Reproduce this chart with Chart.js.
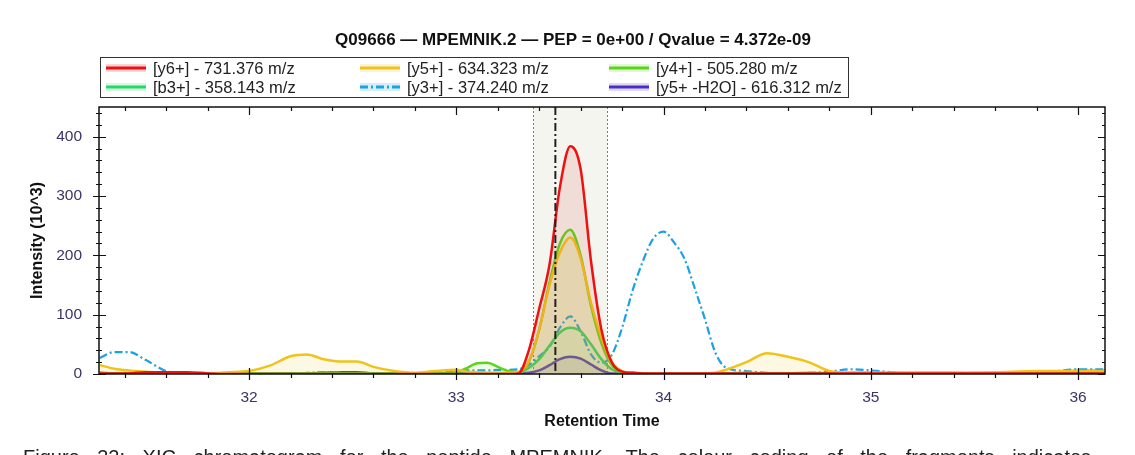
<!DOCTYPE html>
<html>
<head>
<meta charset="utf-8">
<script src="https://cdn.jsdelivr.net/npm/chart.js@4.4.0/dist/chart.umd.min.js"></script>
<style>
  html, body { margin: 0; padding: 0; width: 1135px; height: 455px; overflow: hidden; background: #fff; }
  #wrap { position: relative; width: 1135px; height: 455px; }
  #caption {
    position: absolute; left: 23px; top: 446px;
    font-family: "Liberation Sans", Arial, sans-serif; font-size: 20px; color: #222;
    white-space: nowrap; word-spacing: 12px;
  }
</style>
</head>
<body>
<div id="wrap">
  <canvas id="xic" width="1135" height="455"></canvas>
  <div id="caption">Figure 32: XIC chromatogram for the peptide MPEMNIK. The colour coding of the fragments indicates</div>
</div>
<script>
// retention time grid (min) shared by all fragment traces
const rt = [31.28, 31.35, 31.42, 31.5, 31.6, 31.7, 31.8, 31.9, 32.0, 32.1,
            32.2, 32.28, 32.36, 32.45, 32.52, 32.6, 32.7, 32.8, 32.9, 33.0,
            33.05, 33.1, 33.15, 33.2, 33.25, 33.3, 33.35, 33.4, 33.45, 33.5,
            33.55, 33.6, 33.65, 33.7, 33.75, 33.8, 33.85, 33.9, 33.95, 34.0,
            34.05, 34.1, 34.15, 34.2, 34.25, 34.3, 34.4, 34.5, 34.6, 34.7,
            34.8, 34.9, 35.0, 35.2, 35.4, 35.6, 35.8, 36.0, 36.13];

// intensities (10^3)
const y6 = [1, 1, 1, 3, 3, 3, 1, 0, 0, 0,
            0, 0, 0, 0, 0, 0, 0, 0, 0, 0,
            0, 0, 0, 0, 0, 1, 40, 110, 185, 315,
            384, 345, 190, 75, 20, 4, 2, 1, 1, 1,
            1, 1, 1, 1, 1, 1, 1, 1, 1, 1,
            1, 1, 1, 1, 1, 1, 1, 1, 1];
const y5 = [15, 9, 6, 4, 2, 1, 1, 3, 5, 14,
            30, 33, 25, 21, 21, 12, 5, 2, 5, 7,
            4, 3, 2, 2, 2, 4, 22, 75, 150, 205,
            230, 195, 120, 62, 20, 5, 2, 1, 1, 1,
            1, 1, 1, 1, 2, 7, 20, 35, 29, 20,
            5, 2, 2, 2, 2, 3, 5, 5, 5];
const y4 = [1, 1, 1, 1, 1, 1, 1, 1, 1, 1,
            1, 1, 1, 1, 1, 1, 1, 1, 1, 3,
            10, 18, 19, 12, 5, 3, 20, 75, 155, 220,
            243, 200, 115, 52, 15, 4, 2, 1, 1, 1,
            1, 1, 1, 1, 1, 1, 2, 1, 1, 2,
            1, 2, 2, 2, 2, 1, 1, 1, 1];
const b3 = [1, 1, 1, 1, 1, 1, 1, 1, 1, 1,
            1, 1, 1, 1, 1, 1, 1, 1, 1, 1,
            1, 1, 1, 1, 1, 2, 10, 25, 48, 70,
            78, 72, 50, 25, 8, 2, 1, 1, 1, 1,
            1, 1, 1, 1, 1, 1, 1, 1, 1, 1,
            1, 1, 1, 1, 1, 2, 1, 1, 1];
const y3 = [27, 37, 37, 24, 5, 1, 0, 0, 0, 0,
            0, 2, 3, 2, 1, 1, 1, 1, 2, 5,
            6, 6, 6, 7, 7, 8, 15, 30, 46, 78,
            97, 72, 33, 19, 32, 78, 140, 190, 228, 240,
            222, 195, 145, 92, 36, 11, 5, 2, 1, 2,
            4, 8, 6, 1, 1, 1, 1, 8, 8];
const y5h2o = [2, 1, 1, 1, 1, 1, 1, 1, 1, 1,
               1, 1, 2, 3, 3, 1, 1, 1, 1, 1,
               1, 1, 1, 1, 1, 1, 2, 6, 15, 25,
               29, 26, 16, 6, 1, 1, 1, 1, 1, 1,
               1, 1, 1, 1, 1, 1, 1, 1, 1, 1,
               1, 1, 1, 1, 1, 1, 2, 5, 5];

const labels = ['[y6+] - 731.376 m/z', '[y5+] - 634.323 m/z', '[y4+] - 505.280 m/z',
                '[b3+] - 358.143 m/z', '[y3+] - 374.240 m/z', '[y5+ -H2O] - 616.312 m/z'];

// integration window and apex
const peakStart = 33.371;
const peakEnd = 33.728;
const apexRT = 33.478;

const titleText = 'Q09666 \u2014 MPEMNIK.2 \u2014 PEP = 0e+00 / Qvalue = 4.372e-09';

function pts(arr) {
  return arr.map((v, i) => ({x: rt[i], y: v}));
}

function trace(label, values, color, fillColor, dash) {
  return {
    label: label,
    data: pts(values),
    borderColor: color,
    backgroundColor: fillColor || 'transparent',
    borderWidth: dash ? 2.2 : 2.5,
    borderDash: dash || [],
    fill: fillColor ? 'origin' : false,
    pointRadius: 0,
    cubicInterpolationMode: 'monotone'
  };
}

const xicDecor = {
  id: 'xicDecor',
  beforeDatasetsDraw(chart) {
    const {ctx, chartArea: a, scales: {x}} = chart;
    const x0 = Math.round(x.getPixelForValue(peakStart)) + 0.5;
    const x1 = Math.round(x.getPixelForValue(peakEnd)) + 0.5;
    ctx.save();
    ctx.fillStyle = '#f3f5ee';
    ctx.fillRect(x0, a.top, x1 - x0, a.bottom - a.top);
    ctx.strokeStyle = '#6f8f3a';
    ctx.lineWidth = 1;
    ctx.setLineDash([2, 2]);
    [x0, x1].forEach(px => {
      ctx.beginPath();
      ctx.moveTo(px, a.top);
      ctx.lineTo(px, a.bottom);
      ctx.stroke();
    });
    ctx.restore();
  },
  afterDatasetsDraw(chart) {
    const {ctx, chartArea: a, scales: {x}} = chart;
    const px = x.getPixelForValue(apexRT);
    ctx.save();
    ctx.strokeStyle = '#222';
    ctx.lineWidth = 2;
    ctx.setLineDash([8, 3, 2, 3]);
    ctx.beginPath();
    ctx.moveTo(px, a.top);
    ctx.lineTo(px, a.bottom);
    ctx.stroke();
    ctx.restore();
  },
  afterDraw(chart) {
    const {ctx, chartArea: a, scales: {x, y}} = chart;
    ctx.save();
    // title
    ctx.fillStyle = '#111';
    ctx.font = 'bold 17px "Liberation Sans", Arial, sans-serif';
    ctx.textAlign = 'center';
    ctx.textBaseline = 'middle';
    ctx.fillText(titleText, 573, 40);
    ctx.textAlign = 'left';

    // frame
    ctx.strokeStyle = '#111';
    ctx.lineWidth = 1.5;
    ctx.strokeRect(a.left, a.top, a.right - a.left, a.bottom - a.top);

    ctx.lineWidth = 1.2;
    ctx.beginPath();
    // x ticks (bottom + top), minor every 0.2
    for (let v = 31.4; v <= x.max + 1e-9; v += 0.2) {
      const px = Math.round(x.getPixelForValue(v)) + 0.5;
      const major = Math.abs(v - Math.round(v)) < 1e-6;
      ctx.moveTo(px, a.bottom - (major ? 6 : 1));
      ctx.lineTo(px, a.bottom + (major ? 6 : 4));
      ctx.moveTo(px, a.top);
      ctx.lineTo(px, a.top + (major ? 8 : 4));
    }
    // y ticks (left + right), minor every 20
    for (let v = 0; v <= y.max; v += 20) {
      const py = Math.round(y.getPixelForValue(v)) + 0.5;
      const major = v % 100 === 0;
      ctx.moveTo(a.left - (major ? 6 : 3), py);
      ctx.lineTo(a.left + (major ? 7 : 3), py);
      ctx.moveTo(a.right, py);
      ctx.lineTo(a.right - (major ? 7 : 3), py);
    }
    ctx.stroke();

    // legend
    ctx.strokeStyle = '#333';
    ctx.lineWidth = 1;
    ctx.strokeRect(100.5, 57.5, 748, 40);
    const cols = [106, 360, 609];
    const rows = [68, 87];
    ctx.font = '16.5px "Liberation Sans", Arial, sans-serif';
    chart.data.datasets.forEach((ds, i) => {
      const lx = cols[i % 3];
      const ly = rows[Math.floor(i / 3)];
      ctx.setLineDash([]);
      ctx.globalAlpha = 0.18;
      ctx.strokeStyle = ds.borderColor;
      ctx.lineWidth = 8;
      ctx.beginPath(); ctx.moveTo(lx, ly); ctx.lineTo(lx + 40, ly); ctx.stroke();
      ctx.globalAlpha = 1;
      ctx.lineWidth = 3;
      ctx.setLineDash(ds.borderDash || []);
      ctx.beginPath(); ctx.moveTo(lx, ly); ctx.lineTo(lx + 40, ly); ctx.stroke();
      ctx.setLineDash([]);
      ctx.fillStyle = '#222';
      ctx.fillText(ds.label, lx + 47, ly + 1);
    });
    ctx.restore();
  }
};

Chart.defaults.font.family = '"Liberation Sans", Arial, sans-serif';

new Chart(document.getElementById('xic').getContext('2d'), {
  type: 'line',
  data: {
    datasets: [
      trace(labels[0], y6, '#ee1111', 'rgba(235, 60, 60, 0.13)'),
      trace(labels[1], y5, '#f0c31a', 'rgba(240, 200, 40, 0.13)'),
      trace(labels[2], y4, '#5ad61a', 'rgba(90, 214, 26, 0.10)'),
      trace(labels[3], b3, '#25d968', 'rgba(37, 217, 104, 0.10)'),
      trace(labels[4], y3, '#1ba1e6', null, [8, 3, 2, 3]),
      trace(labels[5], y5h2o, '#4b2ccc', 'rgba(75, 44, 204, 0.10)')
    ]
  },
  options: {
    responsive: false,
    animation: false,
    layout: {padding: {top: 107, left: 0, right: 30, bottom: 0}},
    plugins: {
      legend: {display: false},
      tooltip: {enabled: false},
      title: {display: false}
    },
    scales: {
      x: {
        type: 'linear',
        min: 31.276,
        max: 36.13,
        grid: {display: false},
        border: {display: false},
        ticks: {stepSize: 1, includeBounds: false, padding: 6, color: '#3b3366', font: {size: 15.5}},
        title: {display: true, text: 'Retention Time', color: '#111', font: {size: 16, weight: 'bold'}, padding: {top: 0, bottom: 23.4}},
        afterFit(scale) { scale.height = 81; }
      },
      y: {
        min: 0,
        max: 450,
        grid: {display: false},
        border: {display: false},
        ticks: {stepSize: 100, includeBounds: false, padding: 9, color: '#3b3366', font: {size: 15.5}},
        title: {display: true, text: 'Intensity (10^3)', color: '#111', font: {size: 16, weight: 'bold'}, padding: {top: 28, bottom: 0}},
        afterFit(scale) { scale.width = 99; }
      }
    }
  },
  plugins: [xicDecor]
});
</script>
</body>
</html>
